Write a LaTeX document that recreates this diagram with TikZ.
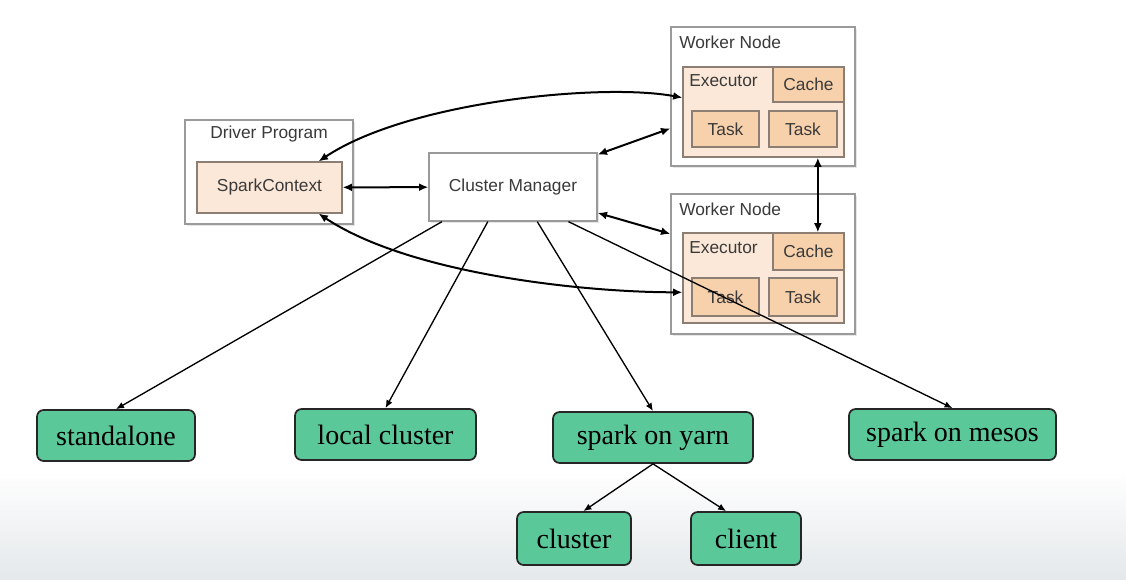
\documentclass[tikz,border=0pt]{standalone}
\usepackage{fontspec}
\setmainfont{Liberation Serif}
\setsansfont{Liberation Sans}
\usetikzlibrary{arrows.meta,shadows}
\definecolor{peach}{HTML}{FBE8D8}
\definecolor{apricot}{HTML}{F7D1AC}
\definecolor{mint}{HTML}{5BC89A}
\definecolor{frame}{HTML}{9A9A9A}
\definecolor{cellframe}{HTML}{8C7E72}
\definecolor{ink}{HTML}{3A3A3A}
\definecolor{haze}{HTML}{E4E8EA}

\begin{document}
\begin{tikzpicture}[x=0.75pt,y=-0.75pt,
		outer/.style={draw=frame,fill=white,line width=1pt,inner sep=0pt,
			drop shadow={shadow xshift=1.2pt,shadow yshift=-1.2pt,opacity=0.2}},
		pale/.style={draw=cellframe,fill=peach,line width=0.9pt,inner sep=0pt},
		slot/.style={draw=cellframe,fill=apricot,line width=0.9pt,inner sep=0pt,
			font=\sffamily\fontsize{13}{15}\selectfont,text=ink},
		heading/.style={font=\sffamily\fontsize{13}{15}\selectfont,text=ink,inner sep=0pt},
		mode/.style={draw=black!85,fill=mint,line width=1.3pt,rounded corners=5pt,
			inner sep=0pt,minimum height=38.25pt,font=\fontsize{21}{24}\selectfont},
		link/.style={line width=1.5pt,{Latex[length=7pt,width=6pt]}-{Latex[length=7pt,width=6pt]}},
		feed/.style={line width=1pt,-{Latex[length=6pt,width=5pt]}}]
		
		% THE BACKGROUND
		\useasboundingbox (0,0) rectangle (1126,580);
		\fill[top color=white,bottom color=haze] (0,470) rectangle (1126,580);
		%
		% THE DRIVER AND THE MANAGER
		\node[outer,minimum width=126pt,minimum height=78pt] (drv) at (269,172) {};
		\node[heading] (drvname) at (269,134) {Driver Program};
		\node[pale,minimum width=108.75pt,minimum height=38.25pt,
			font=\sffamily\fontsize{13}{15}\selectfont,text=ink] (sc) at (269.5,187.5) {SparkContext};
		\node[outer,minimum width=126pt,minimum height=51pt,
			font=\sffamily\fontsize{13}{15}\selectfont,text=ink] (cm) at (513,187) {Cluster Manager};
		%
		% THE WORKER NODES
		% UPPER WORKER
		\node[outer,minimum width=138pt,minimum height=104.25pt] (wn1) at (763,96.5) {};
		\node[heading,anchor=west] (wn1name) at (679,42) {Worker Node};
		\node[pale,minimum width=120.75pt,minimum height=67.5pt] (ex1) at (763.5,112) {};
		\node[heading,anchor=west] (ex1name) at (689,81) {Executor};
		\node[slot,minimum width=53.25pt,minimum height=26.25pt] (ca1) at (808.5,84.5) {Cache};
		\node[slot,minimum width=50.25pt,minimum height=27pt] (ta1) at (725.5,129) {Task};
		\node[slot,minimum width=51pt,minimum height=27pt] (tb1) at (803,129) {Task};
		% LOWER WORKER
		\node[outer,minimum width=138pt,minimum height=105pt] (wn2) at (763,264) {};
		\node[heading,anchor=west] (wn2name) at (679,209) {Worker Node};
		\node[pale,minimum width=120.75pt,minimum height=67.5pt] (ex2) at (763.5,278) {};
		\node[heading,anchor=west] (ex2name) at (689,248) {Executor};
		\node[slot,minimum width=53.25pt,minimum height=27.75pt] (ca2) at (808.5,251.5) {Cache};
		\node[slot,minimum width=50.25pt,minimum height=28.5pt] (ta2) at (725.5,297) {Task};
		\node[slot,minimum width=51pt,minimum height=28.5pt] (tb2) at (803,297) {Task};
		%
		% THE DEPLOY MODES
		\node[mode,minimum width=118.5pt] (sta) at (116,435.5) {standalone};
		\node[mode,minimum width=135.75pt] (loc) at (385.5,434.5) {local cluster};
		\node[mode,minimum width=150pt] (yarn) at (653,437.5) {spark on yarn};
		\node[mode,minimum width=155.25pt] (mes) at (952.5,434.5) {spark on mesos};
		\node[mode,minimum width=85.5pt,minimum height=39.75pt] (clu) at (574,538.5) {cluster};
		\node[mode,minimum width=82.5pt,minimum height=39.75pt] (cli) at (746,538.5) {client};
		%
		% THE LINKS
		\draw[link] (sc) -- (cm);
		\draw[link] (sc.28) .. controls +(90,-60) and +(-80,-15) .. (ex1.170);
		\draw[link] (sc.-28) .. controls +(90,60) and +(-100,0) .. (ex2.190);
		\draw[link] (cm.21) -- (wn1.199);
		\draw[link] (cm.-17) -- (wn2.162);
		\draw[link] (ex1.-40) -- (ex1.-40 |- ca2.north);
		%
		% THE MODES
		\draw[feed] (cm.-154) -- (sta.north);
		\draw[feed] (cm.-126) -- (loc.north);
		\draw[feed] (cm.-55) -- (yarn.north);
		\draw[feed] (cm.-32) -- (mes.north);
		\draw[feed] (yarn.south) -- (clu.71);
		\draw[feed] (yarn.south) -- (cli.126);
	\end{tikzpicture}
\end{document}
